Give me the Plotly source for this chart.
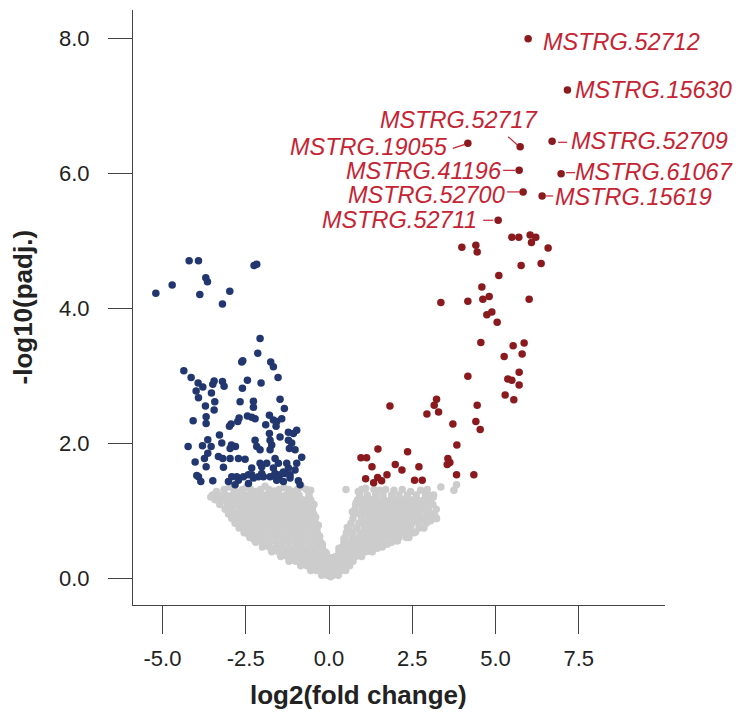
import plotly.graph_objects as go

# ---------------- data ----------------
x_ticks = [-5.0, -2.5, 0.0, 2.5, 5.0, 7.5]
x_ticktext = ["-5.0", "-2.5", "0.0", "2.5", "5.0", "7.5"]
y_ticks = [0, 2, 4, 6, 8]
y_ticktext = ["0.0", "2.0", "4.0", "6.0", "8.0"]

# down-regulated (blue)
blue_x = [-5.20, -4.71, -4.20, -3.92, -3.70, -3.65, -3.88, -3.20, -2.98, -2.25, -2.17,
          -2.07, -2.14, -2.62, -2.59, -1.75, -1.67, -4.36, -4.14, -3.93, -3.79, -3.99, -3.92,
          -3.45, -3.49, -3.20, -3.15, -2.45, -2.04, -1.53, -2.60, -3.53, -3.43, -3.45, -3.71,
          -2.67, -2.27, -2.27, -1.47, -1.34,
          -4.08, -3.69, -3.69, -2.70, -2.74, -2.45, -2.32, -2.22, -1.90, -1.79, -1.67, -1.57,
          -1.42, -1.59, -2.99, -2.94,
          -3.29, -3.22, -3.64, -3.80, -3.54, -4.23, -2.93, -2.81, -2.97, -2.22, -2.17, -2.07,
          -1.77, -1.72, -1.77, -1.47, -1.79, -1.22, -1.07, -0.97, -1.22, -1.12, -1.02, -1.19,
          -3.64, -3.74, -4.02, -3.32, -3.19, -2.97, -2.72, -2.52, -3.69, -3.17, -2.32, -2.07,
          -2.02, -1.87, -1.62, -1.52, -1.67, -0.82, -0.97, -1.27, -1.22, -1.02, -1.37, -1.17, -1.47,
          -3.92, -3.97, -3.49, -3.85, -3.02, -2.92, -2.77, -2.57, -2.42, -2.27, -2.12, -1.97,
          -1.77, -1.67, -1.57, -1.37, -1.17, -0.92, -0.87,
          -2.72, -2.32, -2.02, -1.62, -1.32, -1.52, -2.42, -2.82]
blue_y = [4.22, 4.34, 4.70, 4.70, 4.45, 4.39, 4.20, 4.06, 4.25, 4.63, 4.65,
          3.55, 3.33, 3.20, 3.22, 3.20, 3.13, 3.07, 2.97, 2.89, 2.83, 2.77, 2.67,
          2.92, 2.87, 2.91, 2.84, 2.93, 2.89, 2.97, 2.81, 2.74, 2.61, 2.49, 2.55,
          2.61, 2.62, 2.53, 2.65, 2.51,
          2.33, 2.39, 2.29, 2.37, 2.32, 2.40, 2.38, 2.36, 2.27, 2.41, 2.34, 2.32,
          2.36, 2.25, 2.25, 2.28,
          2.12, 2.00, 2.05, 1.96, 1.95, 1.95, 1.97, 1.95, 1.92, 2.04, 1.95, 1.90,
          2.04, 1.97, 1.90, 2.09, 2.14, 2.16, 2.14, 2.19, 2.04, 2.00, 1.90, 1.92,
          1.85, 1.77, 1.72, 1.80, 1.77, 1.77, 1.77, 1.76, 1.65, 1.64, 1.63, 1.70,
          1.65, 1.70, 1.77, 1.70, 1.63, 1.79, 1.70, 1.70, 1.63, 1.60, 1.57, 1.53, 1.53,
          1.50, 1.52, 1.44, 1.43, 1.43, 1.50, 1.50, 1.50, 1.53, 1.48, 1.50, 1.50,
          1.50, 1.51, 1.45, 1.43, 1.48, 1.44, 1.38,
          1.45, 1.53, 1.55, 1.55, 1.55, 1.48, 1.40, 1.38]

# up-regulated (red)
red_x = [5.49, 5.70, 6.04, 6.21, 6.08, 6.58, 3.99, 4.41, 4.45, 5.77, 6.37, 5.10, 4.59, 3.36,
         4.17, 4.62, 4.81, 6.01, 4.74, 4.89, 5.05, 4.56, 5.53, 5.86, 5.80, 5.26, 4.17, 5.37,
         5.49, 5.71, 5.71, 5.29, 5.55, 1.83, 3.23, 3.16, 2.94, 3.29, 4.45, 4.41, 4.54, 3.72,
         3.84, 1.47, 2.36, 0.96, 1.13, 1.29, 1.99, 2.19, 2.70, 3.57, 3.63, 3.55, 1.10, 1.34,
         1.46, 1.58, 1.74, 2.57, 2.80, 3.83, 4.35]
red_y = [5.05, 5.05, 5.08, 5.05, 4.97, 4.89, 4.90, 4.93, 4.83, 4.63, 4.66, 4.48, 4.31, 4.08,
         4.10, 4.13, 4.17, 4.13, 3.90, 3.94, 3.79, 3.49, 3.44, 3.48, 3.32, 3.28, 2.99, 2.95,
         2.93, 3.05, 2.86, 2.71, 2.64, 2.55, 2.65, 2.56, 2.43, 2.46, 2.56, 2.32, 2.20, 2.28,
         1.97, 1.91, 1.87, 1.78, 1.78, 1.65, 1.68, 1.60, 1.65, 1.77, 1.71, 1.68, 1.47, 1.41,
         1.49, 1.44, 1.53, 1.45, 1.45, 1.53, 1.53]

# labelled top genes
label_names = ["MSTRG.52712", "MSTRG.15630", "MSTRG.52717", "MSTRG.19055", "MSTRG.52709",
               "MSTRG.41196", "MSTRG.61067", "MSTRG.52700", "MSTRG.15619", "MSTRG.52711"]
label_x = [5.98, 7.16, 5.74, 4.17, 6.70, 5.71, 6.97, 5.83, 6.40, 5.08]
label_y = [7.99, 7.23, 6.39, 6.44, 6.47, 6.04, 5.99, 5.72, 5.66, 5.30]

# not significant (grey), read row by row
gray_row_y = [0.04, 0.11, 0.18, 0.25, 0.32, 0.39, 0.46, 0.53, 0.60, 0.67, 0.74, 0.81,
              0.88, 0.95, 1.02, 1.09, 1.16, 1.23, 1.31]
gray_row_x = [
    [-0.22, -0.05, 0.12, 0.28],
    [-0.55, -0.38, -0.2, -0.02, 0.18, 0.36, 0.5],
    [-0.85, -0.66, -0.47, -0.28, -0.1, 0.08, 0.27, 0.45, 0.62],
    [-1.2, -1.0, -0.8, -0.6, -0.4, -0.2, 0.0, 0.18, 0.36, 0.55, 0.72],
    [-1.45, -1.25, -1.05, -0.85, -0.65, -0.45, -0.25, -0.06, 0.2, 0.4, 0.6, 0.8, 0.98],
    [-1.72, -1.52, -1.32, -1.12, -0.92, -0.72, -0.52, -0.32, -0.12, 0.3, 0.5, 0.7, 0.9, 1.1, 1.3],
    [-2.0, -1.8, -1.6, -1.4, -1.2, -1.0, -0.8, -0.6, -0.4, -0.2, 0.4, 0.6, 0.8, 1.0, 1.2, 1.4, 1.6],
    [-2.2, -2.0, -1.8, -1.6, -1.4, -1.2, -1.0, -0.8, -0.6, -0.42, -0.25, 0.45, 0.65, 0.85, 1.05,
     1.25, 1.45, 1.65, 1.88],
    [-2.38, -2.18, -1.98, -1.78, -1.58, -1.38, -1.18, -0.98, -0.78, -0.58, -0.38, 0.48, 0.7, 0.9,
     1.1, 1.3, 1.5, 1.7, 1.9, 2.1, 2.32],
    [-2.55, -2.35, -2.15, -1.95, -1.75, -1.55, -1.35, -1.15, -0.95, -0.75, -0.55, -0.35, 0.52,
     0.72, 0.95, 1.15, 1.35, 1.55, 1.75, 1.95, 2.15, 2.35, 2.55],
    [-2.7, -2.5, -2.3, -2.1, -1.9, -1.7, -1.5, -1.3, -1.1, -0.9, -0.7, -0.5, -0.36, 0.6, 0.82,
     1.05, 1.25, 1.45, 1.65, 1.85, 2.05, 2.25, 2.45, 2.7],
    [-2.82, -2.6, -2.4, -2.2, -2.0, -1.8, -1.6, -1.4, -1.2, -1.0, -0.8, -0.6, -0.4, 0.66, 0.9,
     1.1, 1.3, 1.5, 1.7, 1.9, 2.1, 2.3, 2.5, 2.7, 2.92],
    [-2.92, -2.7, -2.5, -2.3, -2.1, -1.9, -1.7, -1.5, -1.3, -1.1, -0.9, -0.7, -0.5, 0.72, 0.98,
     1.2, 1.4, 1.6, 1.8, 2.0, 2.2, 2.4, 2.6, 2.8, 3.0, 3.22],
    [-3.02, -2.8, -2.6, -2.4, -2.2, -2.0, -1.8, -1.6, -1.4, -1.2, -1.0, -0.8, -0.6, -0.46, 0.74,
     0.92, 1.1, 1.3, 1.5, 1.7, 1.9, 2.1, 2.3, 2.5, 2.7, 2.92, 3.08],
    [-3.12, -2.92, -2.7, -2.5, -2.3, -2.1, -1.9, -1.7, -1.5, -1.3, -1.1, -0.9, -0.7, -0.5, 0.78,
     1.0, 1.2, 1.4, 1.6, 1.8, 2.0, 2.2, 2.4, 2.6, 2.8, 2.98],
    [-3.28, -3.05, -2.85, -2.65, -2.45, -2.25, -2.05, -1.85, -1.65, -1.45, -1.25, -1.05, -0.85,
     -0.65, -0.45, 0.8, 0.98, 1.15, 1.35, 1.55, 1.75, 1.95, 2.15, 2.35, 2.55, 2.75, 2.95, 3.12],
    [-3.42, -3.2, -3.0, -2.8, -2.6, -2.4, -2.2, -2.0, -1.8, -1.6, -1.4, -1.2, -1.0, -0.8, -0.55,
     0.86, 1.05, 1.25, 1.45, 1.65, 1.85, 2.05, 2.25, 2.45, 2.65, 2.85, 3.05],
    [-3.5, -3.3, -3.1, -2.9, -2.7, -2.5, -2.3, -2.1, -1.9, -1.7, -1.5, -1.3, -1.1, -0.9, -0.6,
     0.92, 1.15, 1.4, 1.62, 1.88, 2.1, 2.35, 2.62, 2.9, 3.14],
    [-3.15, -2.85, -2.6, -2.35, -2.05, -1.8, -1.5, -1.2, -0.95, -0.68, 0.51, 0.98, 1.35, 1.7,
     2.2, 2.95],
]
# scattered grey points along the edges of the two lobes
gray_edge_x = [-3.38, -2.98, -2.72, -2.48, -2.20, -1.92, -1.65, -1.35, -1.05, -0.82, -0.55,
               -3.55, -3.25, -3.00, -2.85, -2.62, -2.45, -2.25, -1.95, -1.68, -1.40, -1.10,
               -0.80, -0.50, -0.20, 0.05, 0.15,
               -0.62, -0.50, -0.40, -0.32, -0.28, -0.20, -0.08, 0.05,
               0.30, 0.45, 0.55, 0.70, 0.82, 0.88, 1.10, 1.52, 1.95, 2.45, 2.75, 3.05, 3.22,
               3.18, 3.05, 2.85, 2.60, 2.40, 2.05, 1.75, 1.45, 1.20, 0.95, 0.70, 0.45, 0.30,
               3.36, 3.75, 3.83, 3.13, 3.23]
gray_edge_y = [1.28, 1.35, 1.27, 1.34, 1.28, 1.36, 1.29, 1.34, 1.28, 1.35, 1.30,
               1.20, 1.14, 1.05, 0.92, 0.78, 0.66, 0.57, 0.50, 0.42, 0.34, 0.27,
               0.21, 0.15, 0.08, 0.02, 0.07,
               1.18, 1.10, 0.90, 0.78, 0.62, 0.50, 0.37, 0.30,
               0.44, 0.58, 0.75, 0.98, 1.12, 1.28, 1.33, 1.30, 1.30, 1.28, 1.30, 1.22, 1.02,
               0.92, 0.85, 0.74, 0.68, 0.60, 0.55, 0.50, 0.44, 0.40, 0.34, 0.28, 0.20, 0.14,
               1.35, 1.30, 1.38, 1.20, 0.88]

gray_x = [v for row in gray_row_x for v in row] + gray_edge_x
gray_y = [y for y, row in zip(gray_row_y, gray_row_x) for _ in row] + gray_edge_y

# ---------------- style ----------------
FONT = "Liberation Sans, Arial, Helvetica, sans-serif"
GRAY = "#CBCCCB"
BLUE = "#22376F"
RED_PT = "#8A1A1E"
RED_TXT = "#C62333"
AX = "#444444"
MS = 7.5

# label placement (pixel offsets from the point): side, dx, dy, connector (x0,x1,y0,y1) or None
label_style = [
    ("left", 14, 3, None),
    ("left", 7, 0, None),
    ("right", 19, -27, (-12, -3, -10, -2)),
    ("right", -19, 4, (-15, -3, 5, 1)),
    ("left", 18, 0, (6, 15, 1, 1)),
    ("right", -16, 1, (-16, -4, 0, 0)),
    ("left", 13, -2, (5, 14, -1, -1)),
    ("right", -17, 3, (-16, -3, 0, 0)),
    ("left", 12, 1, (4, 11, 0, 0)),
    ("right", -20, 0, (-15, -5, 0, 0)),
]

fig = go.Figure()
fig.add_trace(go.Scatter(x=gray_x, y=gray_y, mode="markers",
                         marker=dict(color=GRAY, size=MS, line=dict(width=0)),
                         hoverinfo="skip", showlegend=False))
fig.add_trace(go.Scatter(x=blue_x, y=blue_y, mode="markers",
                         marker=dict(color=BLUE, size=MS, line=dict(width=0)),
                         showlegend=False))
fig.add_trace(go.Scatter(x=red_x + label_x, y=red_y + label_y, mode="markers",
                         marker=dict(color=RED_PT, size=MS, line=dict(width=0)),
                         showlegend=False))

for name, lx, ly, (side, dx, dy, conn) in zip(label_names, label_x, label_y, label_style):
    fig.add_annotation(x=lx, y=ly, text="<i>" + name + "</i>", showarrow=False,
                       xanchor=side, yanchor="middle", xshift=dx, yshift=-dy,
                       borderpad=0,
                       font=dict(family=FONT, size=23.5, color=RED_TXT))
    if conn is not None:
        x0, x1, y0, y1 = conn
        fig.add_shape(type="line", xref="x", yref="y", xsizemode="pixel", ysizemode="pixel",
                      xanchor=lx, yanchor=ly, x0=x0, x1=x1, y0=-y0, y1=-y1,
                      line=dict(color=RED_TXT, width=1.2))

# axis titles
fig.add_annotation(xref="paper", yref="paper", x=0.423, y=0, yshift=-90,
                   text="<b>log2(fold change)</b>", showarrow=False,
                   xanchor="center", yanchor="middle",
                   font=dict(family=FONT, size=26, color="#222222"))
fig.add_annotation(xref="paper", yref="paper", x=0, y=0.5, xshift=-111,
                   text="<b>-log10(padj.)</b>", showarrow=False, textangle=-90,
                   xanchor="center", yanchor="middle",
                   font=dict(family=FONT, size=26, color="#222222"))

fig.update_layout(
    width=739, height=712,
    margin=dict(l=133, r=74, t=10, b=107),
    plot_bgcolor="white", paper_bgcolor="white",
    font=dict(family=FONT, color="#222222"),
    xaxis=dict(range=[-5.886, 10.09], tickvals=x_ticks, ticktext=x_ticktext,
               showgrid=False, zeroline=False, showline=True, linecolor=AX, linewidth=1,
               ticks="outside", ticklen=28, tickcolor=AX, tickwidth=1,
               tickfont=dict(size=22, family=FONT, color="#222222"),
               ticklabelstandoff=6),
    yaxis=dict(range=[-0.4, 8.415], tickvals=y_ticks, ticktext=y_ticktext,
               showgrid=False, zeroline=False, showline=True, linecolor=AX, linewidth=1,
               ticks="outside", ticklen=24, tickcolor=AX, tickwidth=1,
               tickfont=dict(size=22, family=FONT, color="#222222"),
               ticklabelstandoff=14),
)

fig.write_html("out.html")
